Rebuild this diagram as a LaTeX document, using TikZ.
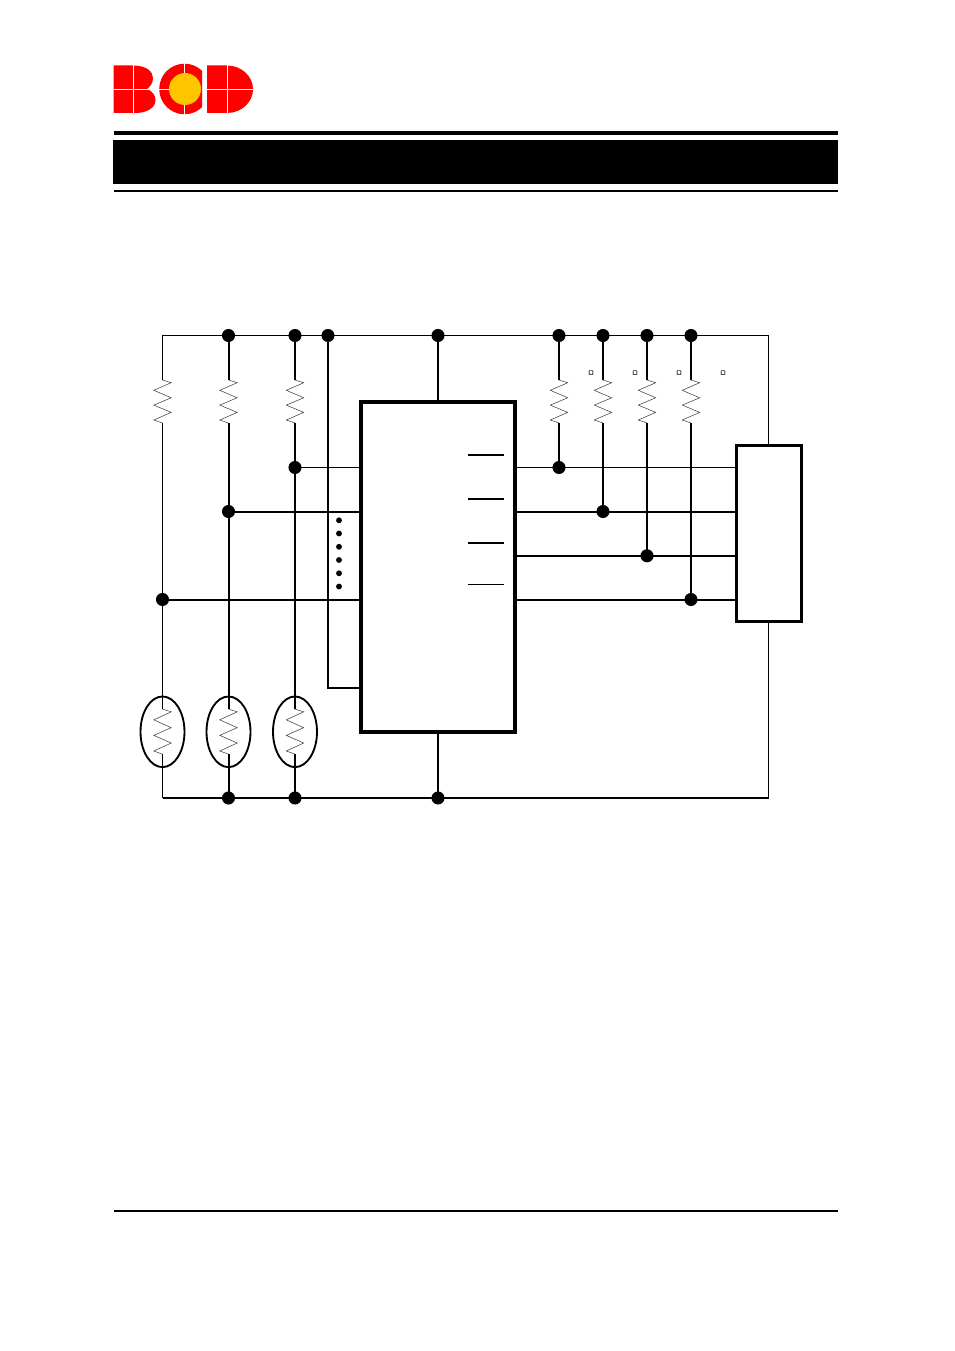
\documentclass[tikz,border=0pt]{standalone}
\usepackage{fontspec}
\setmainfont{Liberation Sans}
\usetikzlibrary{shapes.geometric}
\definecolor{bcdred}{RGB}{255,0,0}
\definecolor{bcdyellow}{RGB}{255,198,0}
\tikzset{
  x=0.75pt,y=-0.75pt,
  thinwire/.style={line width=0.95pt},
  midwire/.style={line width=1.4pt},
  wire/.style={line width=1.5pt},
  chipbox/.style={draw,line width=3pt,inner sep=0pt,outer sep=0pt,minimum size=0pt,anchor=north west},
  connbox/.style={draw,line width=2.25pt,inner sep=0pt,outer sep=0pt,minimum size=0pt,anchor=north west},
  jointdot/.style={circle,fill=black,inner sep=0pt,outer sep=0pt,minimum size=9.8pt},
  smalldot/.style={circle,fill=black,inner sep=0pt,outer sep=0pt,minimum size=4.4pt},
  zig/.style={line width=0.4pt,draw=black!75,line join=miter},
  thermo/.style={ellipse,draw=black,line width=1.4pt,fill=none,minimum width=33pt,minimum height=53pt,inner sep=0pt},
  omega/.style={font=\fontsize{5.5pt}{6pt}\selectfont,inner sep=0pt},
  logocut/.style={draw=white,line width=0.6pt},
  overbar/.style={line width=1.1pt},
  overbarthin/.style={line width=0.6pt}
}
\newcommand{\zigzag}[3]{% centre x, top y, height scale
  \draw[zig] (#1,#2) -- ++(8.7,{2.7*#3}) -- ++(-17.4,{7.6*#3}) -- ++(17.4,{7.5*#3}) -- ++(-17.4,{7.3*#3}) -- ++(17.4,{7.3*#3}) -- ++(-17.4,{7.6*#3}) -- ++(8.7,{3*#3});
}
\begin{document}
\begin{tikzpicture}
\useasboundingbox (0,0) rectangle (954,1351);
\fill[white] (0,0) rectangle (954,1351);
% logo
\fill[bcdred] (113.5,65.5) -- (133,65.5) .. controls (147,65.5) and (153,72) .. (153,78)
   .. controls (153,83) and (150,87) .. (147,89) .. controls (152,91) and (155.5,95) .. (155.5,100)
   .. controls (155.5,108) and (147,113) .. (135,113) -- (113.5,113) -- cycle;
\begin{scope}
 \clip (155,60) rectangle (202,118);
 \fill[bcdred] (184.5,89) circle[radius=25.3];
\end{scope}
\begin{scope}
 \clip (155,60) rectangle (201,118);
 \fill[bcdyellow] (185,89) circle[radius=16];
\end{scope}
\fill[bcdred] (207,65.5) -- (227,65.5) arc[start angle=-90,end angle=90,x radius=26,y radius=23.75] -- (207,113) -- cycle;
\draw[logocut] (133.3,65) -- (133.3,113.5);
\draw[logocut] (113.5,89) -- (150,89);
\draw[logocut] (184.5,63) -- (184.5,73);
\draw[logocut] (184.5,105) -- (184.5,115);
\draw[logocut] (159,89) -- (169,89);
\draw[logocut] (227,65) -- (227,113.5);
\draw[logocut] (207,89) -- (253,89);
% header
\fill[black] (114,131) rectangle (838,135);
\fill[black] (113,140) rectangle (838,184);
\fill[black] (114,190) rectangle (838,192);
\fill[black] (113.5,1210) rectangle (838,1212);
% junction nodes
\foreach \n/\x/\y in {t1/228.5/335.5,t2/295/335.5,t3/328/335.5,t4/438/335.5,t5/559/335.5,t6/603/335.5,t7/647/335.5,t8/691/335.5,
  b1/228.5/798,b2/295/798,b3/438/798,
  a1/295/467.5,a2/559/467.5,c1/228.5/511.5,c2/603/511.5,d1/647/555.8,e1/162.5/599.5,e2/691/599.5}
  {\node[jointdot] (\n) at (\x,\y) {};}
% corners and pins
\coordinate (tl) at (162.5,335.5);
\coordinate (tr) at (768.5,335.5);
\coordinate (bl) at (162.5,798);
\coordinate (br) at (768.5,798);
\coordinate (p3) at (328,688);
% chip & connector
\node[chipbox,minimum width=115.5pt,minimum height=247.9pt] (chip) at (361.3,401.5) {};
\node[connbox,minimum width=49.1pt,minimum height=132pt] (conn) at (736,445.5) {};
% rails
\draw[thinwire] (tl) -- (t1.center) -- (tr) -- (tr |- conn.north);
\draw[thinwire] (br |- conn.south) -- (br) -- (b3.center) -- (bl);
% resistors top
\foreach \x in {162.5,228.5,295,559,603,647,691} {\zigzag{\x}{380}{1}}
% thermistors
\foreach \n/\x in {th1/162.5,th2/228.5,th3/295} {
  \node[thermo] (\n) at (\x,731.8) {};
  \zigzag{\x}{709}{1.05}
}
% verticals
\draw[thinwire] (tl) -- (162.5,380);
\draw[thinwire] (162.5,423) -- (e1.center) -- (162.5,709);
\draw[thinwire] (162.5,754) -- (bl);
\draw[wire] (t1.center) -- (228.5,380);
\draw[wire] (228.5,423) -- (c1.center) -- (228.5,709);
\draw[wire] (228.5,754) -- (b1.center);
\draw[wire] (t2.center) -- (295,380);
\draw[wire] (295,423) -- (a1.center) -- (295,709);
\draw[wire] (295,754) -- (b2.center);
\draw[wire] (t3.center) -- (p3) -- (p3 -| chip.west);
\draw[wire] (t4.center) -- (t4 |- chip.north);
\draw[wire] (b3 |- chip.south) -- (b3.center);
\draw[wire] (t5.center) -- (559,380);
\draw[wire] (559,423) -- (a2.center);
\draw[wire] (t6.center) -- (603,380);
\draw[wire] (603,423) -- (c2.center);
\draw[wire] (t7.center) -- (647,380);
\draw[wire] (647,423) -- (d1.center);
\draw[wire] (t8.center) -- (691,380);
\draw[wire] (691,423) -- (e2.center);
% horizontals
\draw[thinwire] (a1.center) -- (a1 -| chip.west);
\draw[thinwire] (a1 -| chip.east) -- (a2.center) -- (a2 -| conn.west);
\draw[wire] (c1.center) -- (c1 -| chip.west);
\draw[wire] (c2 -| chip.east) -- (c2.center) -- (c2 -| conn.west);
\draw[midwire] (d1 -| chip.east) -- (d1.center) -- (d1 -| conn.west);
\draw[wire] (e1.center) -- (e1 -| chip.west);
\draw[wire] (e2 -| chip.east) -- (e2.center) -- (e2 -| conn.west);
% small dots
\foreach \n/\y in {s1/520.3,s2/533.5,s3/546.8,s4/560,s5/573.3,s6/586.5} {\node[smalldot] (\n) at (339,\y) {};}
% overbars
\draw[overbar] (467.5,455) -- (504,455);
\draw[overbar] (467.5,499) -- (504,499);
\draw[overbar] (467.5,543) -- (504,543);
\draw[overbarthin] (467.5,584.5) -- (504,584.5);
% omega
\foreach \n/\x in {o1/591,o2/635,o3/679,o4/723} {\node[omega] (\n) at (\x,372.7) {Ω};}
\end{tikzpicture}
\end{document}
